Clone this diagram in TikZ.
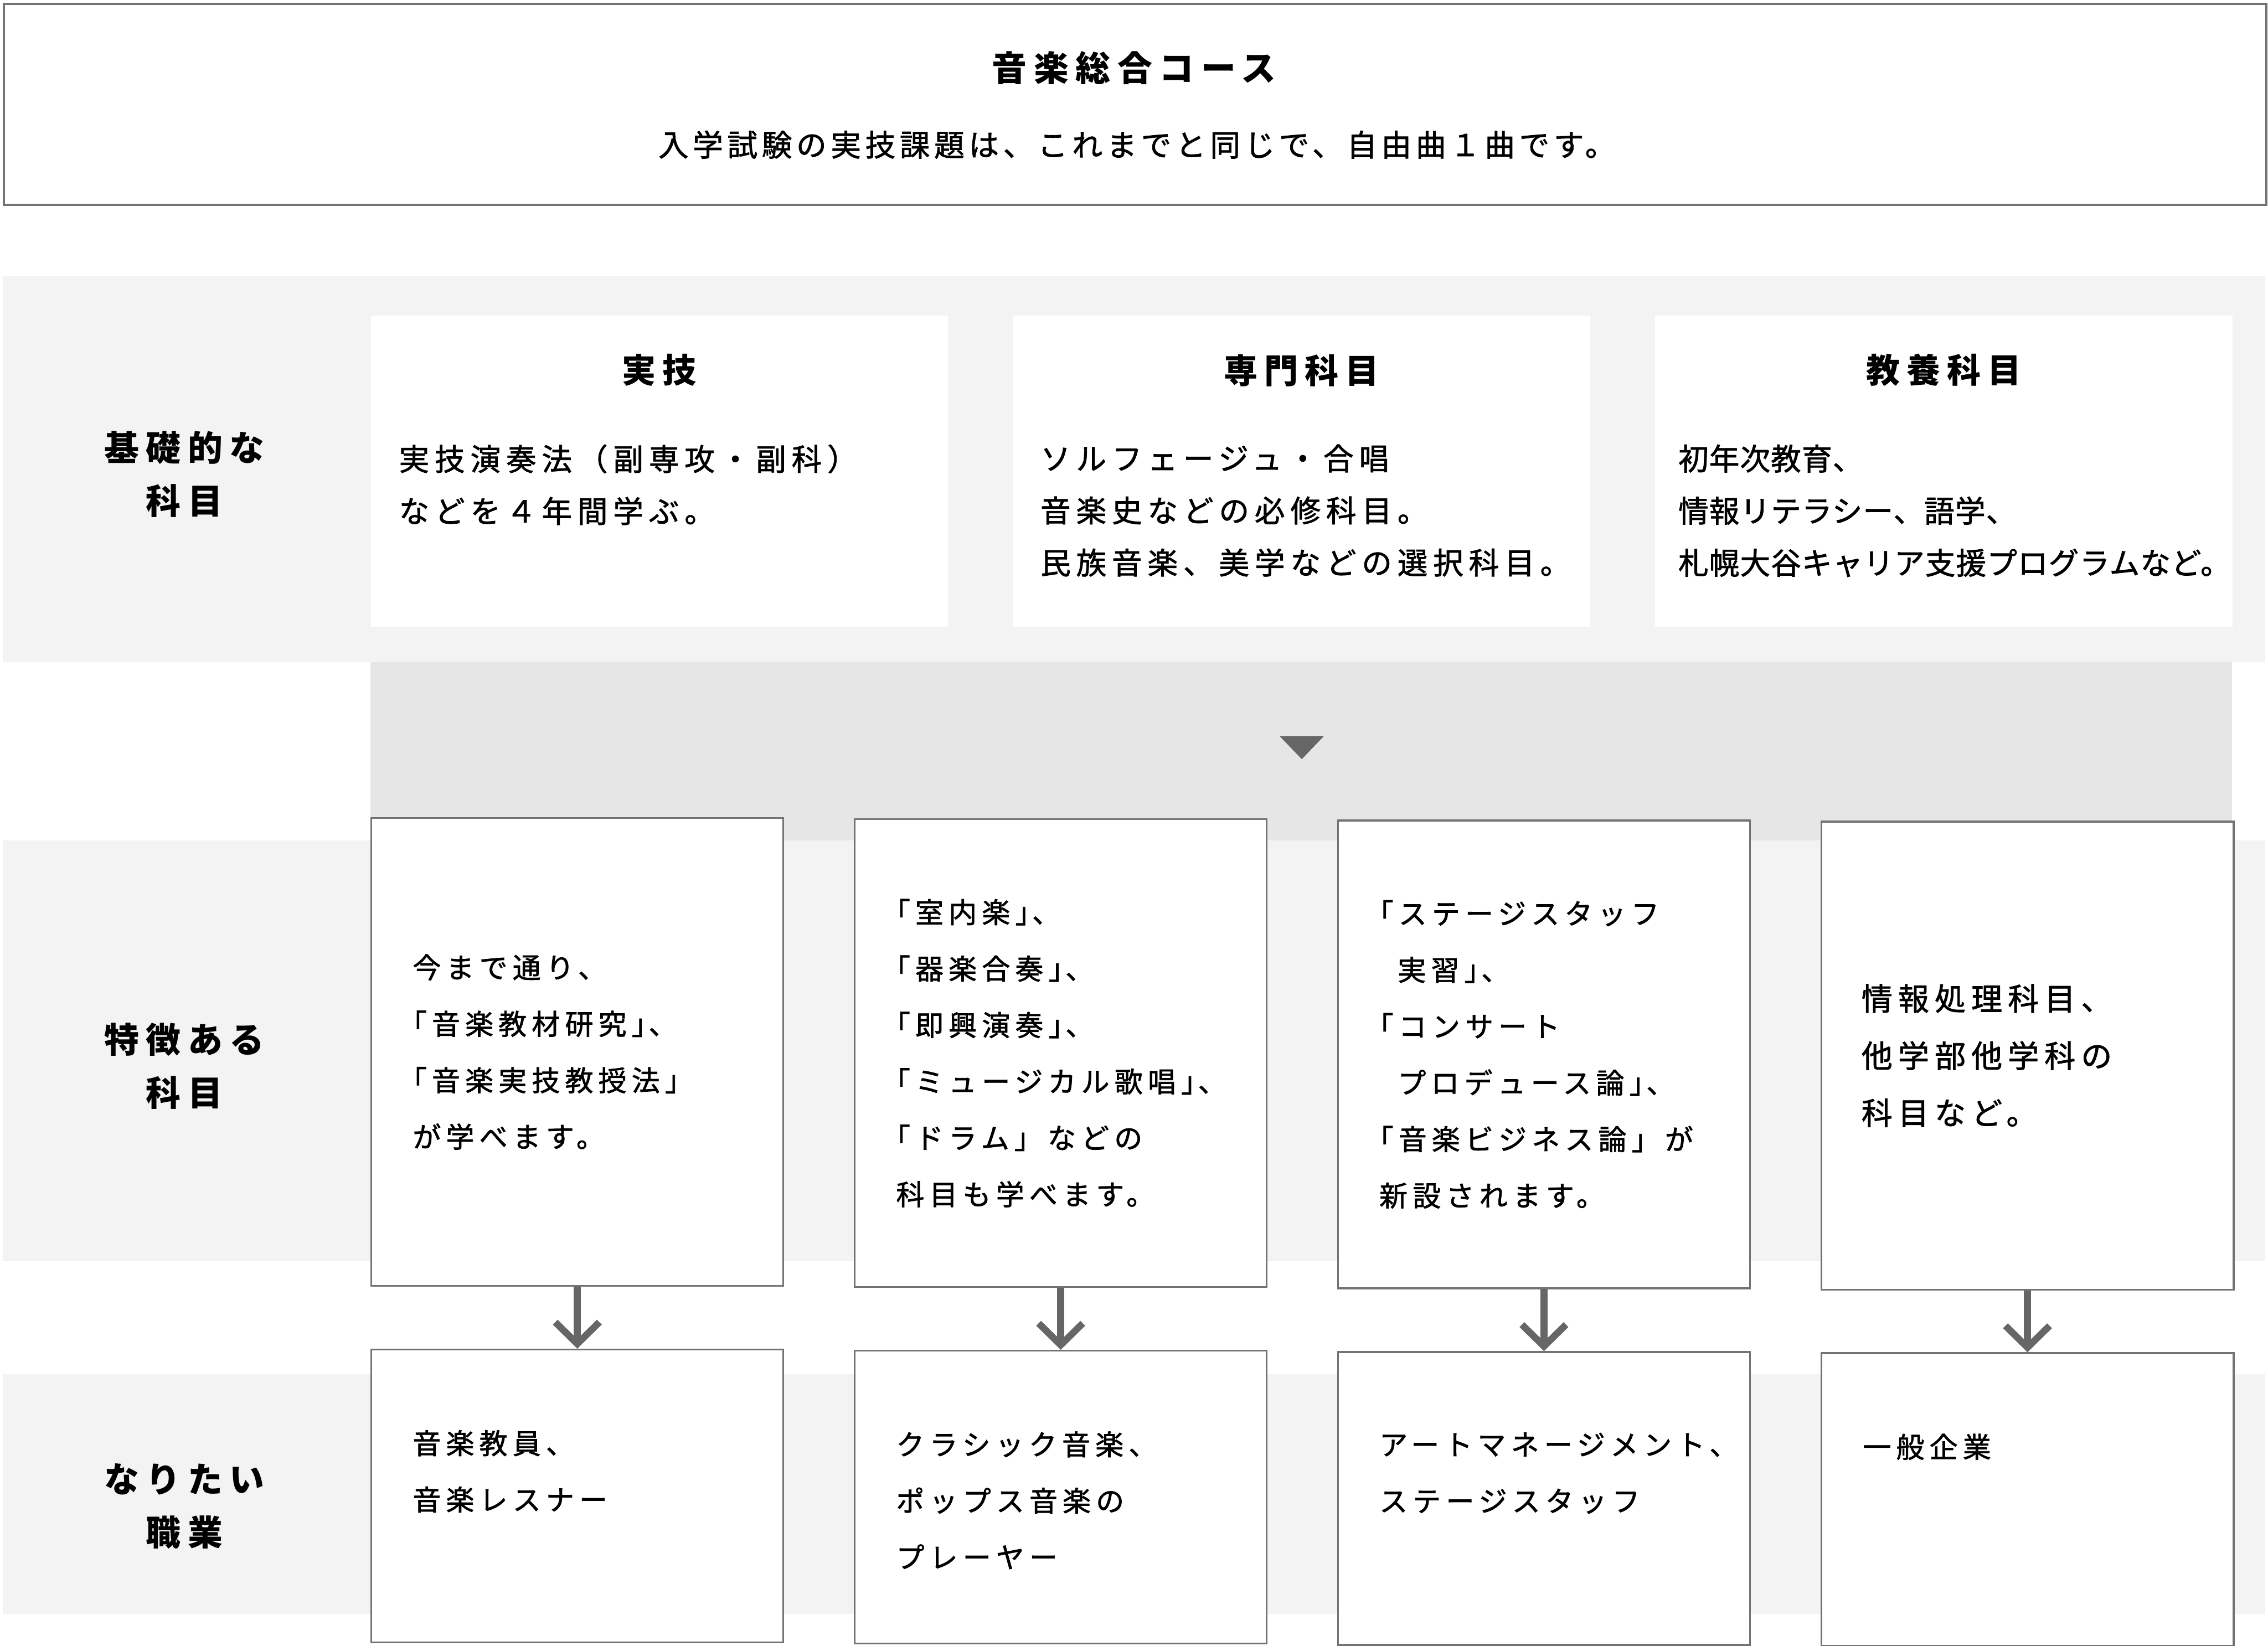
\documentclass[tikz,border=0pt]{standalone}
\usepackage{fontspec}
\newfontfamily\jpfont{Noto Sans CJK JP}
\newfontfamily\jpbody[FakeBold=1.5]{Noto Sans CJK JP}
\usetikzlibrary{positioning, arrows.meta}

\definecolor{bandgray}{HTML}{F3F3F3}
\definecolor{flowgray}{HTML}{E6E6E6}
\definecolor{linegray}{HTML}{737373}
\definecolor{arrowgray}{HTML}{666666}

\newcommand\openbr{\hspace*{-.5em}「}
\newcommand\closebr{」\hspace*{-.4em}、}

\tikzset{
	basebox/.style={fill=white, inner sep=0, minimum width=79.8mm, minimum height=43mm, anchor=north west},
	stepbox/.style={fill=white, draw=linegray, line width=0.7pt, inner sep=0, minimum width=57mm, anchor=north west},
	headtxt/.style={font=\jpfont\bfseries\addfontfeature{LetterSpace=20}\fontsize{13.7pt}{16pt}\selectfont},
	subtxt/.style={font=\jpbody\addfontfeature{LetterSpace=14}\fontsize{11.9pt}{16pt}\selectfont},
	labeltxt/.style={align=center, inner sep=0, font=\jpfont\bfseries\addfontfeature{LetterSpace=20}\fontsize{13.7pt}{21pt}\selectfont},
	titletxt/.style={inner sep=0, font=\jpfont\bfseries\addfontfeature{LetterSpace=20}\fontsize{13.3pt}{16pt}\selectfont},
	basetxt/.style={align=left, inner sep=0, anchor=north west, font=\jpbody\addfontfeature{LetterSpace=#1}\fontsize{11.9pt}{20.5pt}\selectfont},
	basetxt/.default=18,
	bodytxt/.style={align=left, inner sep=0, font=\jpbody\addfontfeature{LetterSpace=18}\fontsize{11.1pt}{22.2pt}\selectfont},
	widetxt/.style={align=left, inner sep=0, font=\jpbody\addfontfeature{LetterSpace=18}\fontsize{12.2pt}{22.5pt}\selectfont},
	flow/.style={draw=arrowgray, line width=2.7pt, -{Straight Barb[length=3mm, width=6.1mm]}}
}

\begin{document}
\begin{tikzpicture}[x=0.2mm, y=-0.2mm]
	\useasboundingbox (0,0) rectangle (1568,1138);

	\node [draw=linegray, line width=0.8pt, inner sep=0, minimum width=312.8mm, minimum height=27.8mm, anchor=north west] (head) at (2,2) {};
	\node [headtxt] (headtitle) at (784,47) {音楽総合コース};
	\node [subtxt] (headsub) at (786,100) {入学試験の実技課題は、これまでと同じで、自由曲１曲です。};

	\fill [bandgray] (2,191) rectangle (1566,458);
	\fill [flowgray] (256,458) rectangle (1543,581);
	\fill [bandgray] (2,581) rectangle (1566,872);
	\fill [bandgray] (2,950) rectangle (1566,1116);
	\fill [arrowgray] (884.6,508.9) -- (915.3,508.9) -- (900,524.9) -- cycle;

	\node [labeltxt] (kiso) at (127.5,328) {基礎的な\\科目};
	\node [labeltxt] (tokucho) at (127.5,737) {特徴ある\\科目};
	\node [labeltxt] (shokugyo) at (127.5,1041.5) {なりたい\\職業};

	\node [basebox] (jitsugi) at (256,218) {};
	\node [basebox] (senmon) at (700,218) {};
	\node [basebox] (kyoyo) at (1144,218) {};
	\node [titletxt] at ([yshift=-7.6mm]jitsugi.north) {実技};
	\node [titletxt] at ([yshift=-7.6mm]senmon.north) {専門科目};
	\node [titletxt] at ([yshift=-7.6mm]kyoyo.north) {教養科目};
	\node [basetxt] at ([shift={(19.5,89)}]jitsugi.north west) {実技演奏法（副専攻・副科）\\などを４年間学ぶ。};
	\node [basetxt] at ([shift={(19,89)}]senmon.north west) {ソルフェージュ・合唱\\音楽史などの必修科目。\\民族音楽、美学などの選択科目。};
	\node [basetxt=2] at ([shift={(16,89)}]kyoyo.north west) {初年次教育、\\情報リテラシー、語学、\\札幌大谷キャリア支援プログラムなど。};

	\node [stepbox, minimum height=64.7mm] (tokuA) at (256,565) {};
	\node [stepbox, minimum height=64.7mm] (tokuB) at (590.2,565.8) {};
	\node [stepbox, minimum height=64.7mm] (tokuC) at (924.3,566.7) {};
	\node [stepbox, minimum height=64.7mm] (tokuD) at (1258.6,567.5) {};
	\node [stepbox, minimum height=40.5mm, below=8.55mm of tokuA] (shokuA) {};
	\node [stepbox, minimum height=40.5mm, below=8.55mm of tokuB] (shokuB) {};
	\node [stepbox, minimum height=40.5mm, below=8.55mm of tokuC] (shokuC) {};
	\node [stepbox, minimum height=40.5mm, below=8.55mm of tokuD] (shokuD) {};

	\node [bodytxt, right=5.8mm of tokuA.west] {今まで通り、\\\openbr{}音楽教材研究\closebr{}\\\openbr{}音楽実技教授法」\\が学べます。};
	\node [bodytxt, right=5.8mm of tokuB.west] {\openbr{}室内楽\closebr{}\\\openbr{}器楽合奏\closebr{}\\\openbr{}即興演奏\closebr{}\\\openbr{}ミュージカル歌唱\closebr{}\\\openbr{}ドラム」などの\\科目も学べます。};
	\node [bodytxt, right=5.8mm of tokuC.west] {\openbr{}ステージスタッフ\\\hspace*{.65em}実習\closebr{}\\\openbr{}コンサート\\\hspace*{.65em}プロデュース論\closebr{}\\\openbr{}音楽ビジネス論」が\\新設されます。};
	\node [widetxt, right=5.6mm of tokuD.west] {情報処理科目、\\他学部他学科の\\科目など。};

	\node [bodytxt, anchor=north west] at ([shift={(29,56)}]shokuA.north west) {音楽教員、\\音楽レスナー};
	\node [bodytxt, anchor=north west] at ([shift={(29,56)}]shokuB.north west) {クラシック音楽、\\ポップス音楽の\\プレーヤー};
	\node [bodytxt, anchor=north west] at ([shift={(29,56)}]shokuC.north west) {アートマネージメント、\\ステージスタッフ};
	\node [bodytxt, anchor=north west] at ([shift={(29,56)}]shokuD.north west) {一般企業};

	\draw [flow] (tokuA) -- (shokuA);
	\draw [flow] (tokuB) -- (shokuB);
	\draw [flow] (tokuC) -- (shokuC);
	\draw [flow] (tokuD) -- (shokuD);
\end{tikzpicture}
\end{document}
